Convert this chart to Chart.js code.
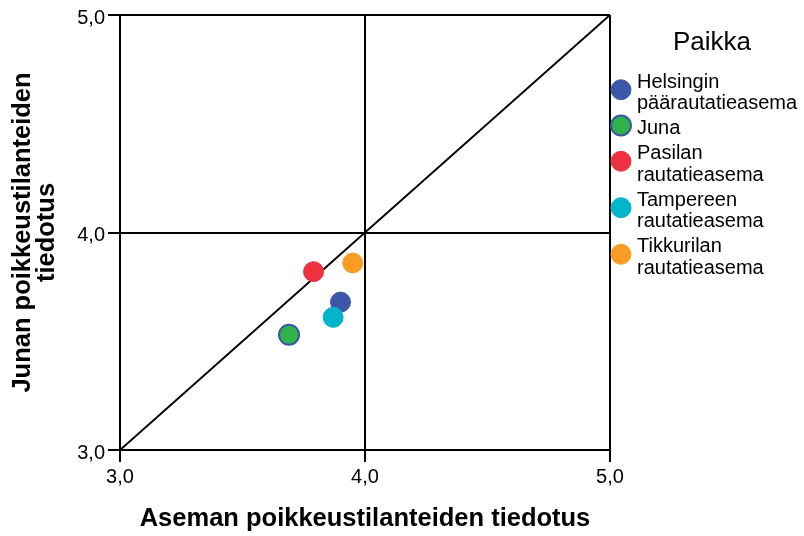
<!DOCTYPE html>
<html>
<head>
<meta charset="utf-8">
<script src="https://cdn.jsdelivr.net/npm/chart.js@4.4.1/dist/chart.umd.min.js"></script>
<style>
  html, body { margin: 0; padding: 0; background: #fff; }
  #wrap { width: 804px; height: 536px; }
</style>
</head>
<body>
<div id="wrap"><canvas id="chart" width="804" height="536"></canvas></div>
<script>
// Paikat (legend categories)
const places = [
    'Helsingin päärautatieasema',
    'Juna',
    'Pasilan rautatieasema',
    'Tampereen rautatieasema',
    'Tikkurilan rautatieasema'
];
// Aseman poikkeustilanteiden tiedotus (x)
const stationScores = [3.90, 3.69, 3.79, 3.87, 3.95];
// Junan poikkeustilanteiden tiedotus (y)
const trainScores = [3.68, 3.53, 3.82, 3.61, 3.86];
const colors = ['#3c57a8', '#2fb44a', '#ee3140', '#00b4cc', '#f99c23'];
const borders = ['#3c57a8', '#3c57a8', '#ee3140', '#00b4cc', '#f99c23'];
const axisTicks = [3, 4, 5];
const diagonal = [3, 5];

const FONT = '"Liberation Sans", Arial, sans-serif';

const pointSets = places.map((name, i) => ({
    type: 'scatter',
    label: name,
    data: [{ x: stationScores[i], y: trainScores[i] }],
    backgroundColor: colors[i],
    borderColor: borders[i],
    borderWidth: i === 1 ? 2 : 1,
    pointRadius: 10,
    order: 10 - i
}));

const diagonalSet = {
    type: 'line',
    label: 'diag',
    data: diagonal.map(v => ({ x: v, y: v })),
    borderColor: '#000',
    borderWidth: 2,
    pointRadius: 0,
    order: 100
};

// draws the "Paikka" legend on the right side
const sideLegend = {
    id: 'sideLegend',
    afterDraw(chart) {
        const ctx = chart.ctx;
        ctx.save();
        ctx.fillStyle = '#000';
        ctx.textBaseline = 'middle';
        ctx.textAlign = 'center';
        ctx.font = `26px ${FONT}`;
        ctx.fillText('Paikka', 712, 43);

        ctx.font = `20px ${FONT}`;
        ctx.textAlign = 'left';
        const lh = 21.5;
        let y = 82;
        chart.data.datasets.forEach(ds => {
            if (ds.type !== 'scatter') return;
            const lines = ds.label.split(' ');
            const mid = y + (lines.length - 1) * lh / 2 - 3;
            ctx.beginPath();
            ctx.arc(621, mid, 10, 0, Math.PI * 2);
            ctx.fillStyle = ds.backgroundColor;
            ctx.fill();
            ctx.lineWidth = ds.borderWidth;
            ctx.strokeStyle = ds.borderColor;
            ctx.stroke();
            ctx.fillStyle = '#000';
            lines.forEach((t, k) => ctx.fillText(t, 637, y + k * lh));
            y += (lines.length - 1) * lh + 25;
        });
        ctx.restore();
    }
};

const fmt = v => v.toFixed(1).replace('.', ',');

new Chart(document.getElementById('chart'), {
    data: { datasets: [...pointSets, diagonalSet] },
    options: {
        responsive: false,
        animation: false,
        layout: { padding: { top: 15, right: 194, left: 0, bottom: 0 } },
        plugins: {
            legend: { display: false },
            tooltip: { enabled: false }
        },
        scales: {
            x: {
                type: 'linear',
                min: 3, max: 5,
                afterBuildTicks: s => { s.ticks = axisTicks.map(v => ({ value: v })); },
                afterFit: s => { s.height = 86; },
                grid: { color: '#000', lineWidth: 2, tickLength: 12 },
                border: { color: '#000', width: 2 },
                ticks: { color: '#000', padding: 3, font: { family: FONT, size: 20 }, callback: fmt },
                title: {
                    display: true,
                    text: 'Aseman poikkeustilanteiden tiedotus',
                    color: '#000',
                    font: { family: FONT, size: 25.5, weight: 'bold', lineHeight: 1.0 },
                    padding: { top: 0, bottom: 4 }
                }
            },
            y: {
                type: 'linear',
                min: 3, max: 5,
                afterBuildTicks: s => { s.ticks = axisTicks.map(v => ({ value: v })); },
                afterFit: s => { s.width = 120; },
                grid: { color: '#000', lineWidth: 2, tickLength: 12 },
                border: { color: '#000', width: 2 },
                ticks: { color: '#000', padding: 3, labelOffset: 3, font: { family: FONT, size: 20 }, callback: fmt },
                title: {
                    display: true,
                    text: ['Junan poikkeustilanteiden', 'tiedotus'],
                    color: '#000',
                    font: { family: FONT, size: 25.5, weight: 'bold', lineHeight: 0.94 },
                    padding: { top: 11, bottom: 0 }
                }
            }
        }
    },
    plugins: [sideLegend]
});
</script>
</body>
</html>
